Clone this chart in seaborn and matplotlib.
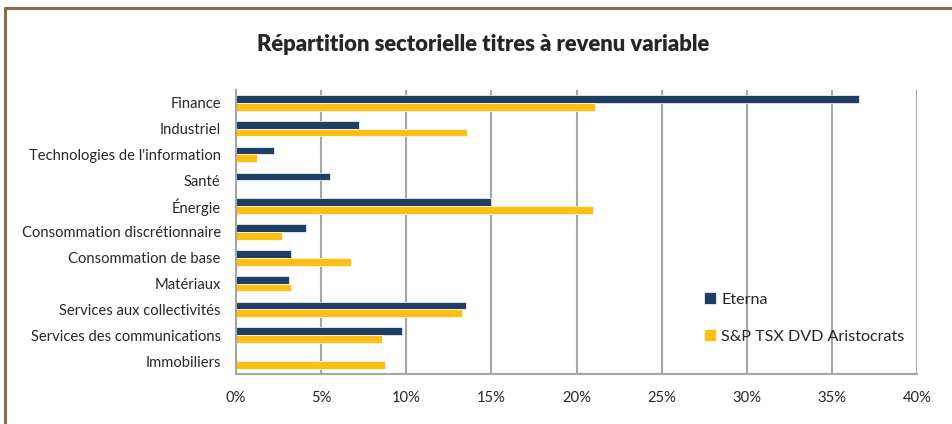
import matplotlib
matplotlib.use('Agg')
import matplotlib.pyplot as plt
import matplotlib.ticker as mticker
import pandas as pd
import seaborn as sns

# secteurs (de haut en bas)
sectors = ['Finance', 'Industriel', "Technologies de l'information", 'Santé', 'Énergie',
           'Consommation discrétionnaire', 'Consommation de base', 'Matériaux',
           'Services aux collectivités', 'Services des communications', 'Immobiliers']
eterna = [36.6, 7.2, 2.2, 5.5, 15.0, 4.1, 3.2, 3.1, 13.5, 9.75, 0.0]
aristocrats = [21.1, 13.55, 1.25, 0.0, 20.95, 2.7, 6.75, 3.2, 13.3, 8.6, 8.75]
series = ['Eterna', 'S&P TSX DVD Aristocrats']
colors = ['#1F3F62', '#FDBF12']

df = pd.DataFrame({
    'secteur': sectors * 2,
    'serie': [series[0]] * len(sectors) + [series[1]] * len(sectors),
    'valeur': eterna + aristocrats,
})

sns.set_style('white')
plt.rcParams['font.family'] = ['Lato', 'DejaVu Sans']

fig = plt.figure(figsize=(9.52, 4.24), dpi=100)
ax = fig.add_axes([0.248, 0.118, 0.7152, 0.67])

sns.barplot(data=df, y='secteur', x='valeur', hue='serie', order=sectors,
            hue_order=series, palette=colors, saturation=1, width=0.6, orient='h',
            edgecolor='white', linewidth=0.5, ax=ax)

ax.set_xlim(0, 40)
ax.xaxis.set_major_locator(mticker.MultipleLocator(5))
ax.xaxis.set_major_formatter(mticker.FuncFormatter(lambda v, p: f'{v:.0f}%'))
ax.grid(axis='x', color='#A6A6A6', linewidth=1.5)
ax.set_axisbelow(True)
for s in ['top', 'right']:
    ax.spines[s].set_visible(False)
for s in ['left', 'bottom']:
    ax.spines[s].set_color('#A6A6A6')
    ax.spines[s].set_linewidth(1.5)
ax.tick_params(axis='both', length=0, labelsize=10.6, colors='#262626')
ax.tick_params(axis='y', pad=11)
ax.tick_params(axis='x', pad=12)
ax.set_xlabel('')
ax.set_ylabel('')

ax.legend(loc='upper left', bbox_to_anchor=(0.678, 0.31), frameon=False,
          fontsize=11.6, handlelength=0.75, handleheight=0.75, handletextpad=0.3,
          labelspacing=1.4, labelcolor='#262626', borderaxespad=0)

fig.suptitle('Répartition sectorielle titres à revenu variable', x=0.507, y=0.92,
             fontsize=15.8, fontweight='heavy', color='#262626')

# cadre brun (haut et gauche)
fig.add_artist(plt.Line2D([0.005, 1.0], [0.981, 0.981], transform=fig.transFigure,
                          color='#8C6D46', linewidth=2.2))
fig.add_artist(plt.Line2D([0.005, 0.005], [0.0, 0.981], transform=fig.transFigure,
                          color='#8C6D46', linewidth=2.2))

fig.savefig('out.png', dpi=100, facecolor='white')
